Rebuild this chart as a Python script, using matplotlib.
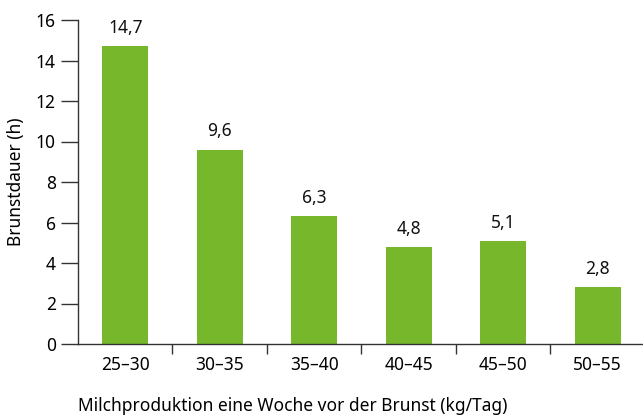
import matplotlib.pyplot as plt
import numpy as np

plt.rcParams['font.family'] = ['Noto Sans', 'DejaVu Sans']

categories = ['25–30', '30–35', '35–40', '40–45', '45–50', '50–55']
values = [14.7, 9.6, 6.3, 4.8, 5.1, 2.8]
labels = ['14,7', '9,6', '6,3', '4,8', '5,1', '2,8']

green = '#77b72b'
axcol = '#333333'
fs = 12.5

fig = plt.figure(figsize=(6.43, 4.16), dpi=100)
ax = fig.add_axes([78 / 643, 72 / 416, 565 / 643, 324 / 416])

x = np.arange(len(categories))
ax.bar(x, values, width=0.49, color=green, zorder=2)
for xi, v, lab in zip(x, values, labels):
    ax.text(xi, v + 0.45, lab, ha='center', va='bottom', fontsize=fs, color='#111111')

ax.set_xlim(-0.5, 5.48)
ax.set_ylim(0, 16)
ax.set_yticks(range(0, 17, 2))
ax.tick_params(axis='y', length=12, width=1, color=axcol, labelsize=fs, pad=4)

# category ticks between bars, labels centered under bars
ax.set_xticks(np.arange(0.5, 5.5, 1.0))
ax.set_xticklabels([])
ax.set_xticks(x, minor=True)
ax.set_xticklabels(categories, minor=True, fontsize=fs)
ax.tick_params(axis='x', which='major', length=7, width=1, color=axcol, direction='out')
ax.tick_params(axis='x', which='minor', length=0, pad=9)

for side in ['top', 'right']:
    ax.spines[side].set_visible(False)
for side in ['left', 'bottom']:
    ax.spines[side].set_color(axcol)
    ax.spines[side].set_linewidth(1)

ax.set_ylabel('Brunstdauer (h)', fontsize=fs, labelpad=8)
ax.set_xlabel('Milchproduktion eine Woche vor der Brunst (kg/Tag)', fontsize=fs)
ax.xaxis.set_label_coords(0.38, -0.165)

fig.savefig('out.png', dpi=100)
